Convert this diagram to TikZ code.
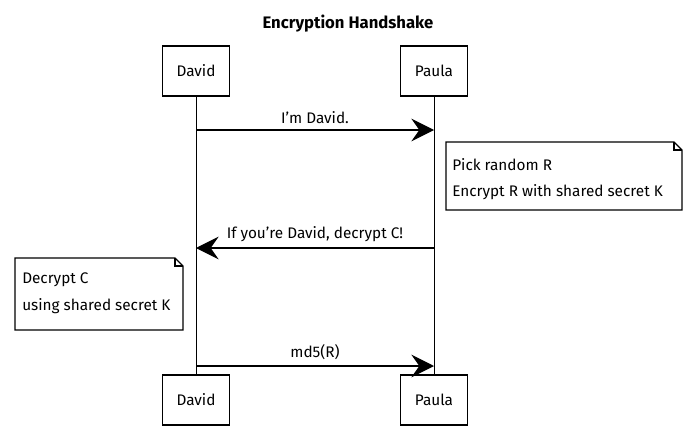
\documentclass[tikz,border=0pt]{standalone}
\usepackage{fontspec}
\setmainfont{Fira Sans}
\usetikzlibrary{arrows.meta}
\begin{document}
\begin{tikzpicture}[x=0.75pt,y=-0.75pt,
  actor/.style={draw,line width=0.9pt,minimum width=67*0.75pt,minimum height=50*0.75pt,inner sep=0pt,font=\fontsize{11.5}{13}\selectfont},
  life/.style={line width=0.7pt},
  msg/.style={line width=0.9pt,-{Stealth[length=17pt,width=17pt,inset=6pt]}},
  lbl/.style={font=\fontsize{11.5}{13}\selectfont,inner sep=1pt},
  notetext/.style={font=\fontsize{11.5}{13}\selectfont,anchor=west,inner sep=0pt},
  notebox/.style={line width=0.9pt}]
\useasboundingbox (0,0) rectangle (687,432);
\node[font=\bfseries\fontsize{12.5}{14}\selectfont] (title) at (348,24) {Encryption Handshake};
\node[actor] (d1) at (196,71) {David};
\node[actor] (p1) at (434,71) {Paula};
\node[actor] (d2) at (196,400) {David};
\node[actor] (p2) at (434,400) {Paula};
\draw[life] (d1) -- (d2);
\draw[life] (p1) -- (p2);
\coordinate (a1s) at (196,130);
\coordinate (a1e) at (434,130);
\draw[msg] (a1s) -- node[lbl,above=3pt] {I'm David.} (a1e);
\coordinate (a2s) at (434,248);
\coordinate (a2e) at (196,248);
\draw[msg] (a2s) -- node[lbl,above=3pt] {If you're David, decrypt C!} (a2e);
\coordinate (a3s) at (196,366);
\coordinate (a3e) at (434,366);
\draw[msg] (a3s) -- node[lbl,above=3pt] {md5(R)} (a3e);
% note 1
\draw[notebox] (446,142) -- (674,142) -- (682,150) -- (682,210) -- (446,210) -- cycle;
\draw[notebox] (674,142) -- (674,150) -- (682,150);
\node[notetext] (n1a) at (452,165) {Pick random R};
\node[notetext] (n1b) at (452,192) {Encrypt R with shared secret K};
% note 2
\draw[notebox] (15,258) -- (175,258) -- (183,266) -- (183,330) -- (15,330) -- cycle;
\draw[notebox] (175,258) -- (175,266) -- (183,266);
\node[notetext] (n2a) at (22,280) {Decrypt C};
\node[notetext] (n2b) at (22,306) {using shared secret K};
\end{tikzpicture}
\end{document}
